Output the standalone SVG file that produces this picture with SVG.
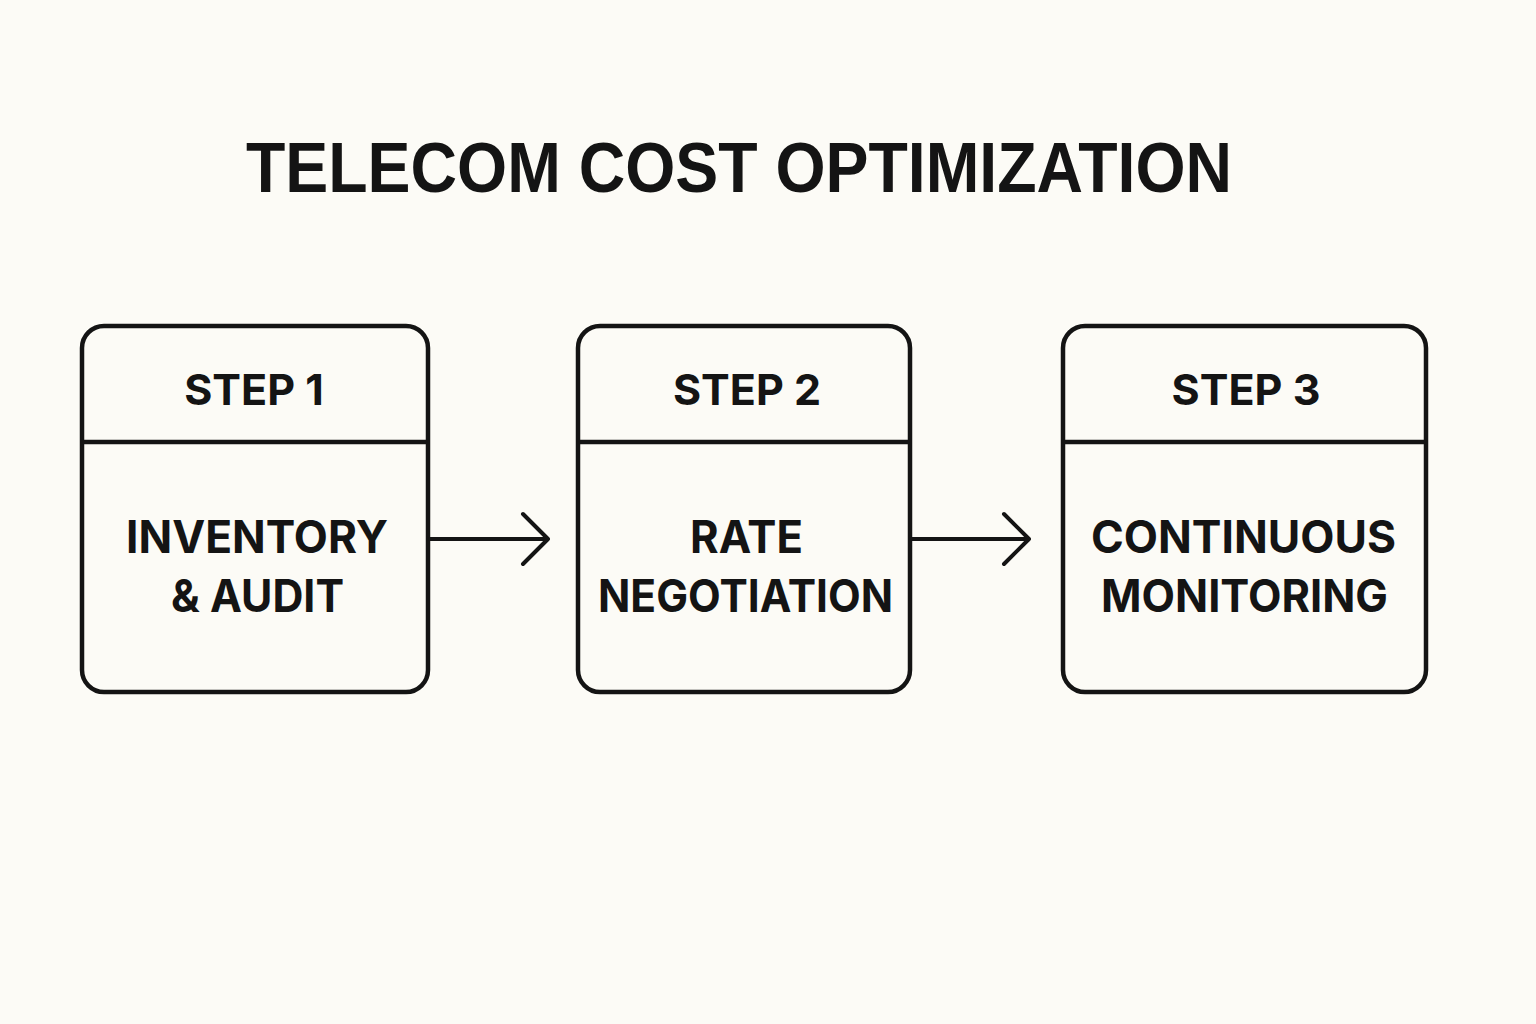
<svg xmlns="http://www.w3.org/2000/svg" width="1536" height="1024" viewBox="0 0 1536 1024">
<style>
.box{fill:none;stroke:#141414;stroke-width:4.5}
.div{stroke:#141414;stroke-width:4.5}
.title{font-family:"Liberation Sans",Arial,sans-serif;font-weight:700;font-size:70px;fill:#141414}
.step{font-family:Inter,"Liberation Sans",sans-serif;font-weight:700;font-size:43px;fill:#141414}
.body{font-family:Inter,"Liberation Sans",sans-serif;font-weight:700;font-size:45px;fill:#141414}
.conn{fill:none;stroke:#141414;stroke-width:4;stroke-linecap:round;stroke-linejoin:round}
</style>
<rect width="1536" height="1024" fill="#fcfbf6"/>
<text class="title" x="739" y="192" text-anchor="middle" textLength="986" lengthAdjust="spacingAndGlyphs">TELECOM COST OPTIMIZATION</text>
<g id="step1">
<rect class="box" x="82" y="326" width="346" height="366" rx="22"/>
<line class="div" x1="82" y1="442" x2="428" y2="442"/>
<text class="step" x="254" y="405" text-anchor="middle">STEP 1</text>
<text class="body" x="257" y="553" text-anchor="middle" textLength="262" lengthAdjust="spacingAndGlyphs">INVENTORY</text>
<text class="body" x="257.5" y="612" text-anchor="middle" textLength="173" lengthAdjust="spacingAndGlyphs">&amp; AUDIT</text>
</g>
<g id="step2">
<rect class="box" x="578" y="326" width="332" height="366" rx="22"/>
<line class="div" x1="578" y1="442" x2="910" y2="442"/>
<text class="step" x="747" y="405" text-anchor="middle">STEP 2</text>
<text class="body" x="746.5" y="553" text-anchor="middle" textLength="113" lengthAdjust="spacingAndGlyphs">RATE</text>
<text class="body" x="745.5" y="612" text-anchor="middle" textLength="295" lengthAdjust="spacingAndGlyphs">NEGOTIATION</text>
</g>
<g id="step3">
<rect class="box" x="1063" y="326" width="363" height="366" rx="22"/>
<line class="div" x1="1063" y1="442" x2="1426" y2="442"/>
<text class="step" x="1246" y="405" text-anchor="middle">STEP 3</text>
<text class="body" x="1243.5" y="553" text-anchor="middle" textLength="305" lengthAdjust="spacingAndGlyphs">CONTINUOUS</text>
<text class="body" x="1244.5" y="612" text-anchor="middle" textLength="287" lengthAdjust="spacingAndGlyphs">MONITORING</text>
</g>
<g id="connectors">
<path class="conn" d="M430 539 H548 M523 514 L548 539 L523 564"/>
<path class="conn" d="M912 539 H1029 M1004 514 L1029 539 L1004 564"/>
</g>
</svg>
